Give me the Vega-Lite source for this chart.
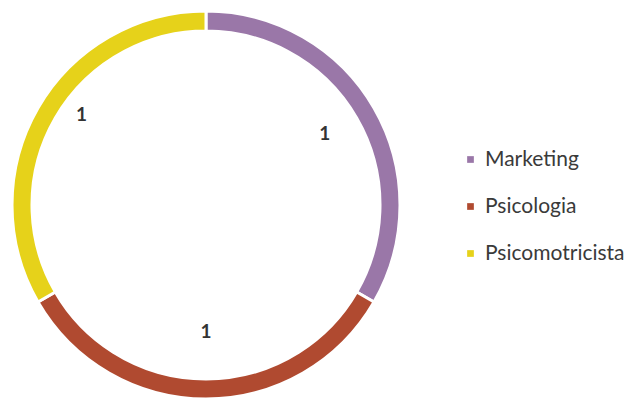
{
  "$schema": "https://vega.github.io/schema/vega-lite/v6.json",
  "width": 412,
  "height": 388,
  "padding": {"top": 11, "left": 0, "right": 232, "bottom": 0},
  "autosize": {"type": "none"},
  "background": "white",
  "config": {"view": {"stroke": null}, "font": "Lato"},
  "data": {"values": [
    {"area": "Marketing", "count": 1},
    {"area": "Psicologia", "count": 1},
    {"area": "Psicomotricista", "count": 1}
  ]},
  "encoding": {
    "theta": {"field": "count", "type": "quantitative", "stack": true}
  },
  "layer": [
    {"mark": {"type": "arc", "radius": 194, "innerRadius": 174, "stroke": "white", "strokeWidth": 3},
     "encoding": {
       "color": {
         "field": "area", "type": "nominal", "title": null,
         "scale": {"domain": ["Marketing", "Psicologia", "Psicomotricista"], "range": ["#9a77a8", "#b04a30", "#e6d21a"]},
         "legend": {
           "orient": "none", "legendX": 460, "legendY": 138,
           "symbolType": "square", "symbolSize": 45, "symbolStrokeWidth": 0,
           "labelFontSize": 21, "labelColor": "#3a3a3a", "labelFont": "Lato",
           "rowPadding": 25, "labelOffset": 4
         }
       }
     }},
    {"mark": {"type": "text", "radius": 137, "dy": -3, "fontSize": 19, "fontWeight": "bold", "font": "Lato"},
     "encoding": {"text": {"field": "count"}, "color": {"value": "#333333"},
       "opacity": {"condition": {"test": "datum.area == 'Marketing'", "value": 1}, "value": 0}}},
    {"mark": {"type": "text", "radius": 125, "dy": 2, "fontSize": 19, "fontWeight": "bold", "font": "Lato"},
     "encoding": {"text": {"field": "count"}, "color": {"value": "#333333"},
       "opacity": {"condition": {"test": "datum.area == 'Psicologia'", "value": 1}, "value": 0}}},
    {"mark": {"type": "text", "radius": 153, "dx": 8, "dy": -14, "fontSize": 19, "fontWeight": "bold", "font": "Lato"},
     "encoding": {"text": {"field": "count"}, "color": {"value": "#333333"},
       "opacity": {"condition": {"test": "datum.area == 'Psicomotricista'", "value": 1}, "value": 0}}}
  ]
}
